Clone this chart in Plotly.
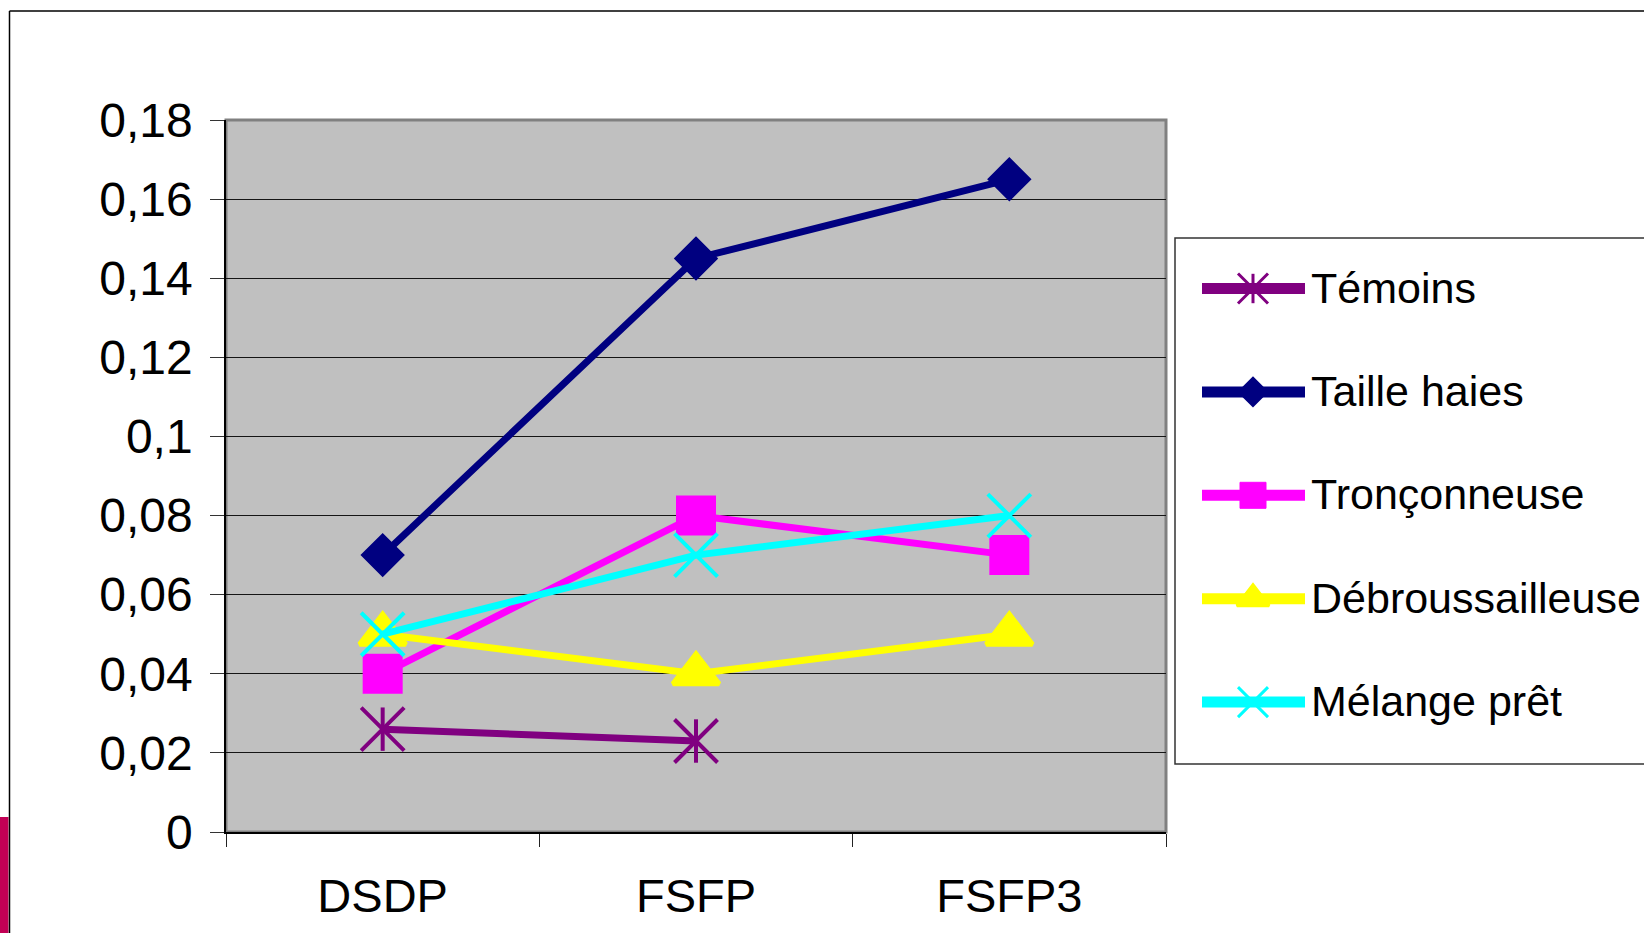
import plotly.graph_objects as go

# ---- data -------------------------------------------------------------
categories = ["DSDP", "FSFP", "FSFP3"]

temoins = [0.026, 0.023, None]
taille_haies = [0.070, 0.145, 0.165]
tronconneuse = [0.040, 0.080, 0.070]
debroussailleuse = [0.050, 0.040, 0.050]
melange_pret = [0.050, 0.070, 0.080]

series_names = ["Témoins", "Taille haies", "Tronçonneuse", "Débroussailleuse", "Mélange prêt"]
series_values = [temoins, taille_haies, tronconneuse, debroussailleuse, melange_pret]

y_tick_values = [0, 0.02, 0.04, 0.06, 0.08, 0.10, 0.12, 0.14, 0.16, 0.18]
y_tick_labels = ["0", "0,02", "0,04", "0,06", "0,08", "0,1", "0,12", "0,14", "0,16", "0,18"]

# ---- styles -----------------------------------------------------------
W, H = 1644, 933
FONT = "Liberation Sans, Arial, sans-serif"

# "extra" adds a second glyph on top of the first (the star = X + vertical bar)
styles = [
    dict(color="#800080", symbol="x-thin", size=43, mlw=4, leg_size=30, leg_mlw=3,
         extra=dict(symbol="line-ns", size=31, leg_size=21)),
    dict(color="#000080", symbol="diamond", size=32, mlw=2, leg_size=22, leg_mlw=2),
    dict(color="#FF00FF", symbol="square", size=38, mlw=2, leg_size=26, leg_mlw=1),
    dict(color="#FFFF00", symbol="triangle-up", size=40, mlw=5, leg_size=28, leg_mlw=3),
    dict(color="#00FFFF", symbol="x-thin", size=43, mlw=4, leg_size=30, leg_mlw=3),
]

# plot area in pixels
PX_LEFT, PX_RIGHT, PX_TOP, PX_BOTTOM = 226, 1166, 120, 832

# legend layout in pixels
LEG_BOX = (1175, 238, 1670, 764)
LEG_LINE_X = (1202, 1305)
LEG_MARK_X = 1253
LEG_TEXT_X = 1309
LEG_ROW_Y0 = 288.5
LEG_ROW_STEP = 103.4

fig = go.Figure()

for name, vals, st in zip(series_names, series_values, styles):
    fig.add_trace(go.Scatter(
        x=categories, y=vals, name=name, mode="lines+markers",
        line=dict(color=st["color"], width=7),
        marker=dict(symbol=st["symbol"], size=st["size"], color=st["color"],
                    line=dict(color=st["color"], width=st["mlw"])),
        cliponaxis=False, showlegend=False, connectgaps=False,
        xaxis="x", yaxis="y",
    ))
    if "extra" in st:
        fig.add_trace(go.Scatter(
            x=categories, y=vals, name=name, mode="markers",
            marker=dict(symbol=st["extra"]["symbol"], size=st["extra"]["size"],
                        color=st["color"],
                        line=dict(color=st["color"], width=st["mlw"])),
            cliponaxis=False, showlegend=False, hoverinfo="skip",
            xaxis="x", yaxis="y",
        ))

# hand-drawn legend on a full-figure pixel overlay
for i, (name, st) in enumerate(zip(series_names, styles)):
    ry = LEG_ROW_Y0 + i * LEG_ROW_STEP
    fig.add_trace(go.Scatter(
        x=list(LEG_LINE_X), y=[ry, ry], mode="lines",
        line=dict(color=st["color"], width=11),
        xaxis="x2", yaxis="y2", showlegend=False, hoverinfo="skip", cliponaxis=False,
    ))
    fig.add_trace(go.Scatter(
        x=[LEG_MARK_X], y=[ry], mode="markers",
        marker=dict(symbol=st["symbol"], size=st["leg_size"], color=st["color"],
                    line=dict(color=st["color"], width=st["leg_mlw"])),
        xaxis="x2", yaxis="y2", showlegend=False, hoverinfo="skip", cliponaxis=False,
    ))
    if "extra" in st:
        fig.add_trace(go.Scatter(
            x=[LEG_MARK_X], y=[ry], mode="markers",
            marker=dict(symbol=st["extra"]["symbol"], size=st["extra"]["leg_size"],
                        color=st["color"],
                        line=dict(color=st["color"], width=st["leg_mlw"])),
            xaxis="x2", yaxis="y2", showlegend=False, hoverinfo="skip", cliponaxis=False,
        ))
    fig.add_annotation(
        x=LEG_TEXT_X, y=ry - 1, xref="x2", yref="y2", text=name, showarrow=False,
        xanchor="left", yanchor="middle", font=dict(family=FONT, size=43, color="black"),
    )

shapes = [
    # plot area
    dict(type="rect", xref="x domain", yref="y domain", x0=0, x1=1, y0=0, y1=1,
         fillcolor="#C0C0C0", line=dict(color="#808080", width=3), layer="below"),
    # outer frame
    dict(type="line", xref="x2", yref="y2", x0=9.5, x1=9.5, y0=11, y1=H + 5,
         line=dict(color="black", width=1.5)),
    dict(type="line", xref="x2", yref="y2", x0=9.5, x1=W + 5, y0=11, y1=11,
         line=dict(color="black", width=1.5)),
    # accent bar at bottom left
    dict(type="rect", xref="x2", yref="y2", x0=-2, x1=8.5, y0=817, y1=H + 5,
         fillcolor="#C20055", line=dict(width=0), layer="below"),
    # legend box
    dict(type="rect", xref="x2", yref="y2", x0=LEG_BOX[0], x1=LEG_BOX[2],
         y0=LEG_BOX[1], y1=LEG_BOX[3], fillcolor="white",
         line=dict(color="#333333", width=1.5), layer="below"),
]

fig.update_layout(
    width=W, height=H, autosize=False,
    margin=dict(l=0, r=0, t=0, b=0, pad=0, autoexpand=False),
    paper_bgcolor="white", plot_bgcolor="rgba(0,0,0,0)",
    font=dict(family=FONT, color="black"),
    shapes=shapes,
    xaxis=dict(
        domain=[PX_LEFT / W, PX_RIGHT / W],
        type="category", categoryorder="array", categoryarray=categories,
        range=[-0.5, 2.5], automargin=False,
        showline=True, linecolor="black", linewidth=1.5,
        ticks="outside", ticklen=13, tickwidth=1.2, tickcolor="#222222",
        tickson="boundaries", showgrid=False, zeroline=False,
        tickfont=dict(family=FONT, size=47, color="black"),
        ticklabelstandoff=22,
        anchor="y",
    ),
    yaxis=dict(
        domain=[(H - PX_BOTTOM) / H, (H - PX_TOP) / H],
        range=[0, 0.18], automargin=False,
        tickvals=y_tick_values, ticktext=y_tick_labels,
        showline=True, linecolor="black", linewidth=1.5,
        ticks="outside", ticklen=14, tickwidth=1.2, tickcolor="#333333",
        showgrid=True, gridcolor="#151515", gridwidth=1.2, zeroline=False,
        tickfont=dict(family=FONT, size=48, color="black"),
        ticklabelstandoff=8,
        anchor="x",
    ),
    xaxis2=dict(domain=[0, 1], range=[0, W], visible=False, anchor="y2",
                fixedrange=True, automargin=False),
    yaxis2=dict(domain=[0, 1], range=[H, 0], visible=False, anchor="x2",
                fixedrange=True, automargin=False),
    showlegend=False,
)

fig.write_html("out.html")
